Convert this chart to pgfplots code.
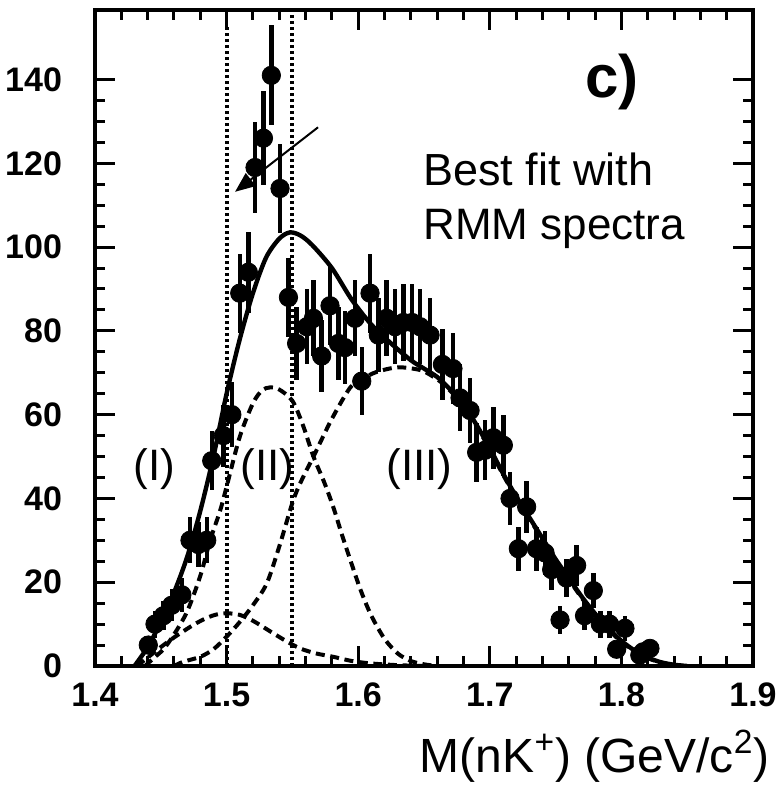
\documentclass[border=0pt]{standalone}
\usepackage{fontspec}
\setmainfont{Liberation Sans}
\usepackage{pgfplots}
\usepackage{pgfplotstable}
\pgfplotsset{compat=1.18}
\usetikzlibrary{arrows.meta}

\pgfplotstableread{
x y e
1.4405 5 2.2
1.4456 10 3.2
1.4520 12 3.5
1.4583 14.5 3.8
1.4660 17 4.1
1.4722 30 5.5
1.4785 29 5.4
1.4849 30 5.5
1.4887 49 7.0
1.4975 55 7.4
1.5040 60 7.7
1.5100 89 9.4
1.5165 94 9.7
1.5216 119 10.9
1.5280 126 11.2
1.5340 141 11.9
1.5406 114 10.7
1.5470 88 9.4
1.5532 77 8.8
1.5610 81 9.0
1.5660 83 9.1
1.5722 74 8.6
1.5786 86 9.3
1.5850 77 8.8
1.5900 76 8.7
1.5976 83 9.1
1.6027 68 8.2
1.6090 89 9.4
1.6153 79 8.9
1.6216 83 9.1
1.6280 81 9.0
1.6343 82 9.1
1.6410 82 9.1
1.6470 81 9.0
1.6546 79 8.9
1.6640 72 8.5
1.6720 71 8.4
1.6774 64 8.0
1.6850 61 7.8
1.6900 51 7.1
1.6964 51.5 7.2
1.7027 54.5 7.4
1.7103 52.7 7.3
1.7154 40 6.3
1.7217 28 5.3
1.7280 38 6.2
1.7355 28 5.3
1.7420 27 5.2
1.7470 23 4.8
1.7534 11 3.3
1.7583 21 4.6
1.7660 24 4.9
1.7720 12 3.5
1.7787 18 4.2
1.7840 10 3.2
1.7910 10 3.2
1.7964 4 2.0
1.8027 9 3.0
1.8140 2.6 1.6
1.8166 3.4 1.8
1.8217 4.2 2.0
}\datatable

\begin{document}
\begin{tikzpicture}
\begin{axis}[
  width=329pt, height=328pt, scale only axis,
  xmin=1.4, xmax=1.9, ymin=0, ymax=156.6,
  xtick={1.4,1.5,1.6,1.7,1.8,1.9},
  xticklabels={1.4,1.5,1.6,1.7,1.8,1.9},
  ytick={0,20,40,60,80,100,120,140},
  minor x tick num=4, minor y tick num=3,
  tick align=inside,
  major tick length=10pt, minor tick length=5pt,
  every tick/.style={line width=1.5pt, black},
  axis line style={line width=2pt},
  /pgf/number format/assume math mode=true,
  ticklabel style={font=\fontsize{17}{19}\selectfont\bfseries},
  xticklabel style={yshift=-5pt},
  yticklabel style={xshift=-13pt},
]
% vertical dotted lines
\addplot[black, line width=2pt, dash pattern=on 1.6pt off 1.4pt] coordinates {(1.5,0) (1.5,152.5)};
\addplot[black, line width=2pt, dash pattern=on 1.6pt off 1.4pt] coordinates {(1.55,0) (1.55,156)};

% component I
\addplot[black, line width=2pt, dash pattern=on 4.5pt off 2.8pt, smooth] coordinates {
(1.432,0)(1.44,2)(1.45,4.5)(1.46,6.8)(1.4747,9.8)(1.485,11.5)(1.4925,12.3)(1.5,12.6)(1.51,12.2)(1.52,10.8)(1.5355,7.8)(1.545,6)(1.5558,4.2)(1.568,3)(1.581,2.2)(1.595,1.2)(1.61,0.6)(1.63,0.2)(1.65,0)};
% component II
\addplot[black, line width=2pt, dash pattern=on 4.5pt off 2.8pt, smooth] coordinates {
(1.438,0)(1.445,2)(1.452,4)(1.46,7.5)(1.47,13)(1.48,21.5)(1.4875,30)(1.495,37)(1.5,42.8)(1.51,54.7)(1.52,62.7)(1.527,65.8)(1.533,66.5)(1.54,66)(1.55,63.3)(1.558,57.5)(1.566,50)(1.574,44)(1.581,38)(1.588,31)(1.594,25.3)(1.602,18)(1.61,12)(1.62,6.5)(1.63,3)(1.64,1.2)(1.65,0.4)(1.66,0)};
% component III
\addplot[black, line width=2pt, dash pattern=on 4.5pt off 2.8pt, smooth] coordinates {
(1.46,0)(1.467,1)(1.48,2.2)(1.49,4)(1.5,7)(1.51,10.5)(1.52,14.5)(1.5305,19.7)(1.54,28.5)(1.5507,39.6)(1.558,45)(1.566,50)(1.58,59)(1.594,66.5)(1.603,68.5)(1.614,70.2)(1.63,71.3)(1.645,70.8)(1.652,70)(1.662,68)(1.67,65.7)(1.68,62.2)(1.69,57.2)(1.70,51.7)(1.71,45.7)(1.72,40.2)(1.73,35.2)(1.74,30.2)(1.75,25.2)(1.76,20.7)(1.77,16.2)(1.78,12.2)(1.79,8.7)(1.80,5.8)(1.81,3.5)(1.82,1.9)(1.83,0.8)(1.84,0.2)(1.85,0)};
% total fit
\addplot[black, line width=2.2pt, smooth] coordinates {
(1.430,0)(1.440,4.5)(1.450,10.5)(1.460,17.5)(1.470,26)(1.480,37)(1.490,50)(1.500,65)(1.510,78)(1.520,89)(1.530,97.5)(1.540,102)(1.548,103.5)(1.556,102.8)(1.565,100.5)(1.580,95)(1.595,87.5)(1.610,81.5)(1.625,77)(1.640,73)(1.650,71)(1.660,69)(1.670,66)(1.680,62.5)(1.690,57.5)(1.700,52)(1.710,46)(1.720,40.5)(1.730,35.5)(1.740,30.5)(1.750,25.5)(1.760,21)(1.770,16.5)(1.780,12.5)(1.790,9)(1.800,6)(1.810,3.7)(1.820,2)(1.830,0.9)(1.840,0.3)(1.850,0)};

% data
\addplot[black, only marks, mark=*, mark size=4.6pt,
  error bars/.cd, y dir=both, y explicit, error mark=none,
  error bar style={line width=2.2pt, black}]
  table[x=x, y=y, y error=e] {\datatable};

\draw[black, line width=1pt, -{Triangle[length=10pt,width=8pt]}] (axis cs:1.5695,128.6) -- (axis cs:1.5064,113.2);

\node[anchor=base west, font=\fontsize{22.5}{26}\selectfont, inner sep=0pt] at (axis cs:1.6492,114.8) {Best fit with};
\node[anchor=base west, font=\fontsize{22}{26}\selectfont, inner sep=0pt] at (axis cs:1.6492,101.7) {RMM spectra};
\node[anchor=base west, font=\fontsize{30}{34}\selectfont\bfseries, inner sep=0pt] at (axis cs:1.7723,135.8) {c)};
\node[anchor=base west, font=\fontsize{22}{26}\selectfont, inner sep=0pt] at (axis cs:1.4289,44.2) {(I)};
\node[anchor=base west, font=\fontsize{22}{26}\selectfont, inner sep=0pt] at (axis cs:1.5102,44.2) {(II)};
\node[anchor=base west, font=\fontsize{22}{26}\selectfont, inner sep=0pt] at (axis cs:1.6211,44.2) {(III)};

\coordinate (SW) at (rel axis cs:0,0);
\coordinate (SE) at (rel axis cs:1,0);
\coordinate (NE) at (rel axis cs:1,1);
\end{axis}
\node[anchor=base east, font=\fontsize{24}{28}\selectfont, inner sep=0pt] at ([shift={(8.5pt,-53pt)}]SE) {M(nK\textsuperscript{+}) (GeV/c\textsuperscript{2})};
\pgfresetboundingbox
\path[use as bounding box] ([shift={(-47.5pt,-61pt)}]SW) rectangle ([shift={(13pt,5pt)}]NE);
\end{tikzpicture}
\end{document}
